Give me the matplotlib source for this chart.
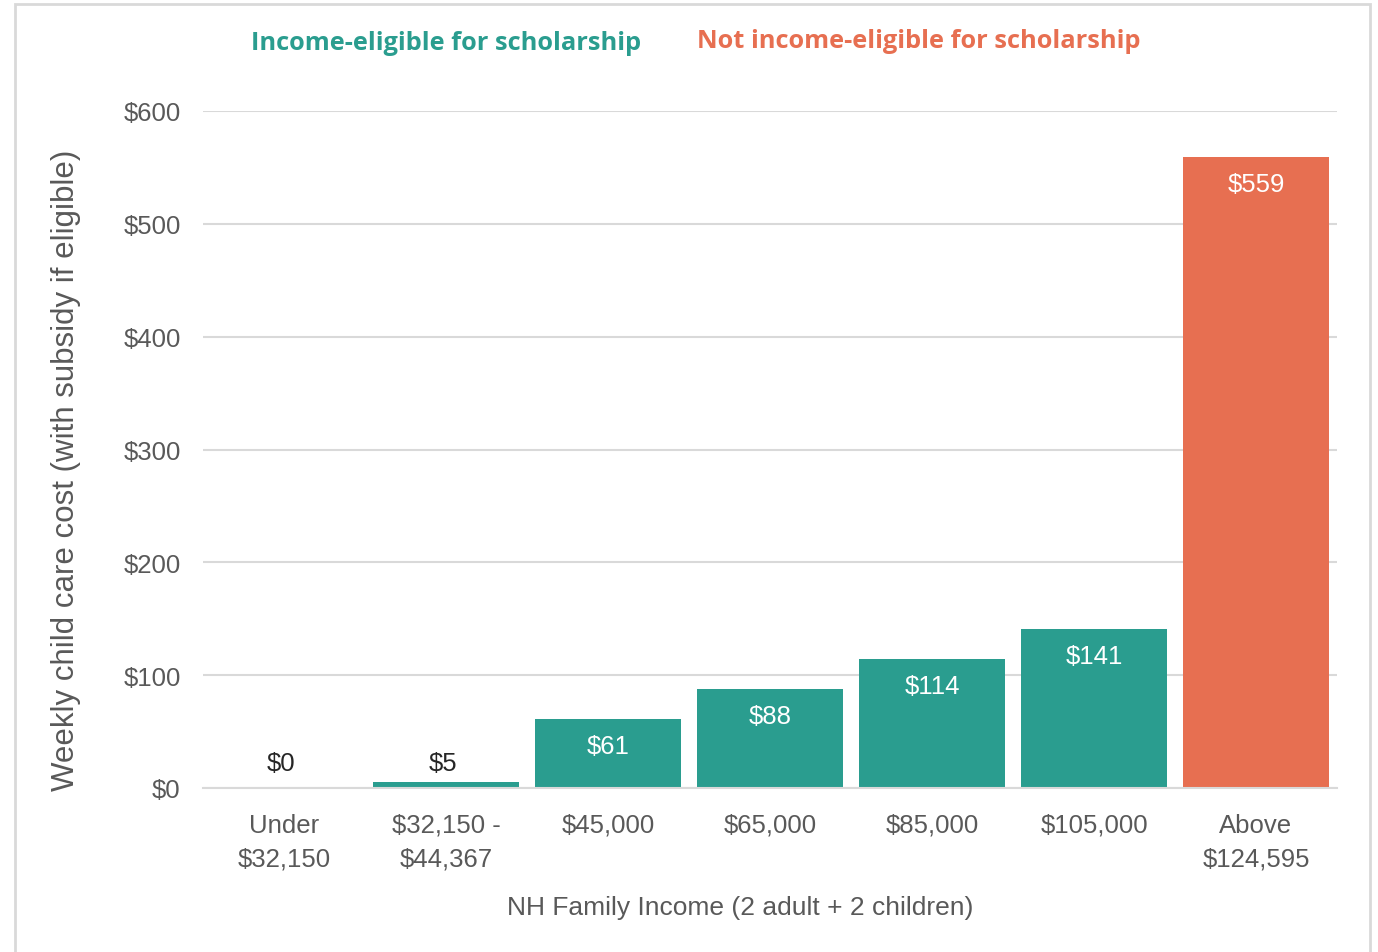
import matplotlib.pyplot as plt
from matplotlib.patches import Rectangle

categories = ["Under\n$32,150", "$32,150 -\n$44,367", "$45,000", "$65,000",
              "$85,000", "$105,000", "Above\n$124,595"]
costs = [0, 5, 61, 88, 114, 141, 559]
eligible = [True, True, True, True, True, True, False]
yticks = [0, 100, 200, 300, 400, 500, 600]

teal = '#2A9D8F'
orange = '#E76F51'
gray = '#595959'

plt.rcParams['font.family'] = ['Liberation Sans', 'DejaVu Sans']

fig = plt.figure(figsize=(13.78, 9.53), dpi=100)
W, H = 1378, 953
ax = fig.add_axes([203 / W, 1 - 789 / H, (1337 - 203) / W, (789 - 112) / H])

# outer chart border
fig.patches.append(Rectangle((15 / W, -0.05), (1370 - 15) / W, 1.05 - 5 / H,
                             transform=fig.transFigure, fill=False,
                             edgecolor='#d9d9d9', linewidth=2))

x = list(range(len(categories)))
colors = [teal if e else orange for e in eligible]
ax.bar(x, costs, width=0.907, color=colors, zorder=3)

for xi, v in zip(x, costs):
    if v < 20:
        ax.text(xi - 0.02, 22, f"${v}", ha='center', va='center', fontsize=18.5, color='#262626')
    else:
        ax.text(xi, v - 24, f"${v}", ha='center', va='center', fontsize=18.5, color='white')

ax.set_xlim(-0.5, len(categories) - 0.5)
ax.set_ylim(0, 600)
ax.set_yticks(yticks)
ax.set_yticklabels([f"${t}" for t in yticks])
ax.set_xticks(x)
ax.set_xticklabels(categories, linespacing=1.5)
ax.tick_params(axis='both', length=0, labelsize=18.5, labelcolor=gray)
ax.tick_params(axis='y', pad=16)
ax.tick_params(axis='x', pad=18)
ax.yaxis.grid(True, color='#d9d9d9', linewidth=1.5, zorder=0)
for s in ['top', 'right', 'left']:
    ax.spines[s].set_visible(False)
ax.spines['bottom'].set_color('#d9d9d9')
ax.spines['bottom'].set_linewidth(1.5)
ax.spines['bottom'].set_zorder(4)

fig.text(740 / W, 1 - 908 / H, "NH Family Income (2 adult + 2 children)",
         ha='center', va='center', fontsize=19, color=gray)
fig.text(66 / W, 1 - 470 / H, "Weekly child care cost (with subsidy if eligible)",
         rotation=90, ha='center', va='center', fontsize=22.5, color=gray)

fig.text(446 / W, 1 - 44 / H, "Income-eligible for scholarship", ha='center', va='center',
         fontsize=18.3, fontweight='bold', color=teal, family=['Open Sans', 'DejaVu Sans'])
fig.text(919 / W, 1 - 41 / H, "Not income-eligible for scholarship", ha='center', va='center',
         fontsize=18.3, fontweight='bold', color=orange, family=['Open Sans', 'DejaVu Sans'])

fig.savefig('out.png', dpi=100)
